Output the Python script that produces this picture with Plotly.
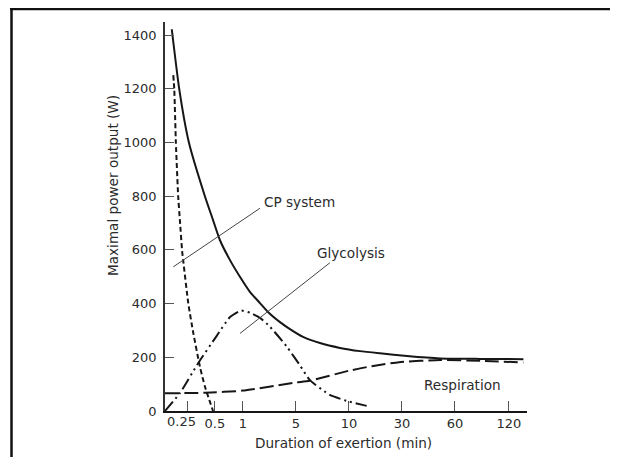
import numpy as np
import plotly.graph_objects as go

# ---- axis: piecewise duration scale (minutes -> axis slot) ----
tick_minutes = [0, 0.25, 0.5, 1, 5, 10, 30, 60, 120, 140]
tick_slots = [0, 0.42, 0.94, 1.47, 2.47, 3.47, 4.47, 5.47, 6.49, 6.83]
tick_labels = ["0.25", "0.5", "1", "5", "10", "30", "60", "120"]
y_ticks = [0, 200, 400, 600, 800, 1000, 1200, 1400]

# ---- data (minutes, watts) ----
total_min = [0.076, 0.16, 0.265, 0.41, 0.484, 0.59, 0.77, 0.95, 1.54, 2.29, 2.89, 3.8,
             4.55, 5.67, 7.27, 9.15, 14.2, 21.7, 32.9, 51.6, 88, 136]
total_w = [1422, 1199, 1000, 800, 711, 637, 562, 499, 443, 402, 369, 331,
           305, 276, 253, 235, 223, 215, 205, 196, 194, 193]

cp_min = [0.093, 0.104, 0.122, 0.148, 0.167, 0.193, 0.204, 0.259, 0.305, 0.365, 0.411, 0.484]
cp_w = [1251, 1200, 1000, 800, 711, 593, 562, 402, 290, 165, 90, 0]

gly_min = [0, 0.168, 0.35, 0.534, 0.77, 0.966, 1.54, 2.29, 3.04, 4.31, 5.38, 6.32, 8.2, 10.04, 16.7]
gly_w = [0, 67, 179, 280, 350, 374, 366, 347, 314, 240, 170, 115, 60, 35, 19]

resp_min = [0, 0.41, 1, 5, 6.3, 10, 18.6, 28.9, 51.6, 88, 136]
resp_w = [66, 68, 76, 106, 113, 150, 167, 182, 190, 187, 181]


def slot(m):
    return np.interp(m, tick_minutes, tick_slots)


INK = "#161616"
TXT = "#2b2b2b"
FONT = "DejaVu Sans"

fig = go.Figure()
series = [
    ("Total", total_min, total_w, "solid"),
    ("CP system", cp_min, cp_w, "5px,3px"),
    ("Glycolysis", gly_min, gly_w, "12px,4px,2px,4px,2px,4px"),
    ("Respiration", resp_min, resp_w, "14px,5px"),
]
for name, xm, yw, dash in series:
    fig.add_trace(go.Scatter(
        x=slot(xm), y=yw, mode="lines", name=name,
        line=dict(color=INK, width=2, dash=dash, shape="spline", smoothing=0.5),
        showlegend=False, hoverinfo="skip",
    ))

OFF = 8  # page body margin
W, H = 618 - OFF, 457 - OFF
L, T = 165 - OFF, 22 - OFF
R = W - (527 - OFF)
B = H - (411 - OFF)
pw, ph = W - L - R, H - T - B


def px(x):  # page pixel -> paper
    return (x - OFF - L) / pw


def py(y):
    return (H - B - (y - OFF)) / ph


shapes = [
    # scanned page frame
    dict(type="line", xref="paper", yref="paper", x0=px(10), x1=px(630), y0=py(9), y1=py(9),
         line=dict(color="#111", width=2.5)),
    dict(type="line", xref="paper", yref="paper", x0=px(11.5), x1=px(11.5), y0=py(8), y1=py(470),
         line=dict(color="#111", width=2.5)),
    # leader lines
    dict(type="line", xref="x", yref="y", x0=0.157, y0=537, x1=1.79, y1=755,
         line=dict(color="#444", width=1)),
    dict(type="line", xref="x", yref="y", x0=1.415, y0=289, x1=3.11, y1=552,
         line=dict(color="#444", width=1)),
]

lab = dict(family=FONT, size=13, color=TXT)
big = dict(family=FONT, size=13.6, color=TXT)
annotations = [
    dict(text="CP system", x=2.53, y=778, xref="x", yref="y", showarrow=False, font=big,
         xanchor="center", yanchor="middle"),
    dict(text="Glycolysis", x=3.51, y=588, xref="x", yref="y", showarrow=False, font=big,
         xanchor="center", yanchor="middle"),
    dict(text="Respiration", x=5.61, y=97, xref="x", yref="y", showarrow=False, font=big,
         xanchor="center", yanchor="middle"),
    dict(text="Maximal power output (W)", x=px(113), y=py(186), xref="paper", yref="paper",
         showarrow=False, textangle=-90, xanchor="center", yanchor="middle", font=big),
    dict(text="Duration of exertion (min)", x=px(343), y=py(443), xref="paper", yref="paper",
         showarrow=False, xanchor="center", yanchor="middle", font=big),
    # first duration label sits a little left of its tick in the original
    dict(text=tick_labels[0], x=px(181), y=py(421), xref="paper", yref="paper",
         showarrow=False, xanchor="center", yanchor="middle", font=lab),
]

fig.update_layout(
    width=W, height=H,
    margin=dict(l=L, r=R, t=T, b=B, pad=0),
    paper_bgcolor="white", plot_bgcolor="white",
    font=dict(family=FONT, size=13, color=TXT),
    shapes=shapes, annotations=annotations,
    xaxis=dict(
        range=[0, 6.83], tickmode="array",
        tickvals=list(slot(tick_minutes[1:-1])), ticktext=[""] + tick_labels[1:],
        tickangle=0, automargin=False,
        ticks="inside", ticklen=10, tickcolor="#555", tickwidth=1,
        showline=True, linecolor=INK, linewidth=2,
        showgrid=False, zeroline=False, fixedrange=True,
        tickfont=lab, ticklabelstandoff=-1,
    ),
    yaxis=dict(
        range=[0, 1449], tickmode="array", tickvals=y_ticks,
        automargin=False,
        ticks="inside", ticklen=9, tickcolor="#555", tickwidth=1,
        showline=True, linecolor="#333", linewidth=1.5,
        showgrid=False, zeroline=False, fixedrange=True,
        tickfont=lab,
        ticklabelstandoff=4,
    ),
)

fig.write_html("out.html")
